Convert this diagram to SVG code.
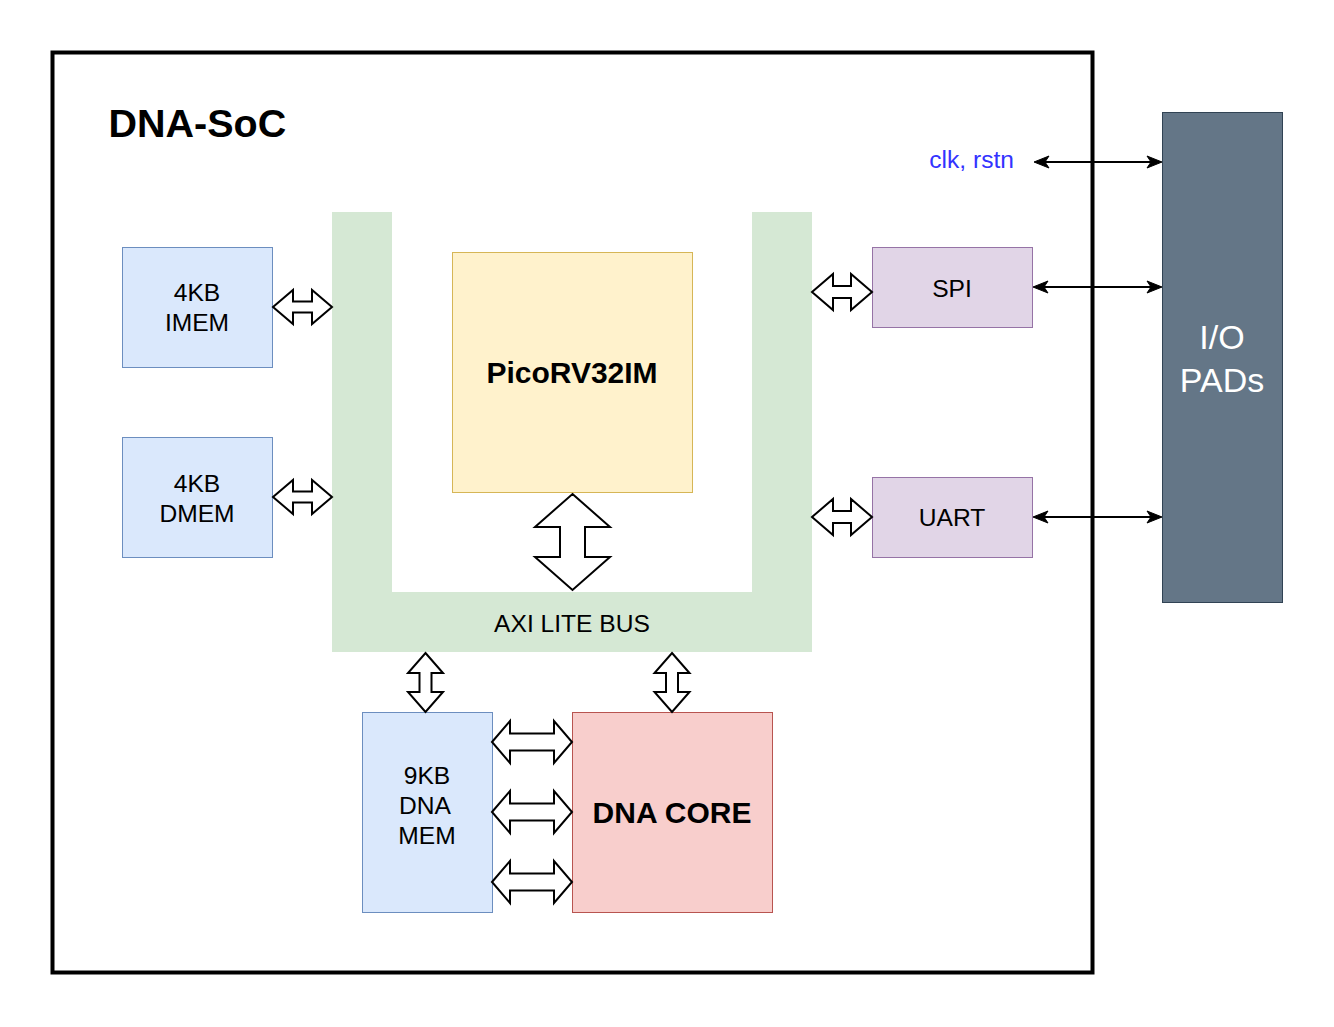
<svg xmlns="http://www.w3.org/2000/svg" width="1334" height="1027" viewBox="0 0 1334 1027">
  <style>
    text { font-family: "Liberation Sans", Arial, Helvetica, sans-serif; font-size: 24.6px; fill: #000000; text-anchor: middle; }
    .blk { fill: #ffffff; stroke: #000000; stroke-width: 2; stroke-linejoin: miter; }
    .thin { stroke: #000000; stroke-width: 2; fill: none; marker-start: url(#ah); marker-end: url(#ah); }
    .blue { fill: #dae8fc; stroke: #6c8ebf; stroke-width: 1; }
    .purple { fill: #e1d5e7; stroke: #9673a6; stroke-width: 1; }
    .bold { font-weight: bold; }
  </style>
  <defs>
    <marker id="ah" markerUnits="userSpaceOnUse" markerWidth="20" markerHeight="20" viewBox="-14 -8 20 16" refX="0" refY="0" orient="auto-start-reverse" overflow="visible">
      <path d="M3,0 L-12,-6 L-8,0 L-12,6 Z" fill="#000000" stroke="#000000" stroke-width="1"/>
    </marker>
  </defs>
  <rect width="1334" height="1027" fill="#ffffff"/>

  <g id="soc">
    <rect x="52.5" y="52.5" width="1040" height="920" fill="none" stroke="#000000" stroke-width="4"/>
    <text x="108.5" y="137" class="bold" style="font-size:39.5px;text-anchor:start">DNA-SoC</text>
  </g>

  <g id="axi-bus">
    <path d="M332,212 H392 V592 H752 V212 H812 V652 H332 Z" fill="#d5e8d4"/>
    <text x="572" y="631.6">AXI LITE BUS</text>
  </g>

  <g id="imem">
    <rect x="122.5" y="247.5" width="150" height="120" class="blue"/>
    <text x="197" y="301">4KB</text>
    <text x="197" y="331">IMEM</text>
  </g>

  <g id="dmem">
    <rect x="122.5" y="437.5" width="150" height="120" class="blue"/>
    <text x="197" y="491.6">4KB</text>
    <text x="197" y="521.6">DMEM</text>
  </g>

  <g id="picorv">
    <rect x="452.5" y="252.5" width="240" height="240" fill="#fff2cc" stroke="#d6b656" stroke-width="1"/>
    <text x="572" y="382.5" class="bold" style="font-size:30px">PicoRV32IM</text>
  </g>

  <g id="spi">
    <rect x="872.5" y="247.5" width="160" height="80" class="purple"/>
    <text x="952" y="296.6">SPI</text>
  </g>

  <g id="uart">
    <rect x="872.5" y="477.5" width="160" height="80" class="purple"/>
    <text x="952" y="525.6">UART</text>
  </g>

  <g id="dna-mem">
    <rect x="362.5" y="712.5" width="130" height="200" class="blue"/>
    <text x="427" y="783.6">9KB</text>
    <text x="425" y="813.6">DNA</text>
    <text x="427" y="843.6">MEM</text>
  </g>

  <g id="dna-core">
    <rect x="572.5" y="712.5" width="200" height="200" fill="#f8cecc" stroke="#b85450" stroke-width="1"/>
    <text x="672" y="822.5" class="bold" style="font-size:30px">DNA CORE</text>
  </g>

  <g id="io-pads">
    <rect x="1162.5" y="112.5" width="120" height="490" fill="#647687" stroke="#314354" stroke-width="1"/>
    <text x="1222" y="349" style="font-size:34px;fill:#ffffff">I/O</text>
    <text x="1222" y="392" style="font-size:34px;fill:#ffffff">PADs</text>
  </g>

  <g id="clk-label">
    <text x="1014" y="168" style="text-anchor:end;fill:#3333ff">clk, rstn</text>
  </g>

  <g id="connectors">
    <path class="blk" d="M273,307 L293,290 L293,301.5 L312,301.5 L312,290 L332,307 L312,324 L312,312.5 L293,312.5 L293,324 Z"/>
    <path class="blk" d="M273,497 L293,480 L293,491.5 L312,491.5 L312,480 L332,497 L312,514 L312,502.5 L293,502.5 L293,514 Z"/>
    <path class="blk" d="M812,292 L833,274 L833,286 L851,286 L851,274 L872,292 L851,310 L851,298 L833,298 L833,310 Z"/>
    <path class="blk" d="M812,517 L833,499 L833,511 L851,511 L851,499 L872,517 L851,535 L851,523 L833,523 L833,535 Z"/>
    <path class="blk" d="M492,742 L510,721 L510,733.5 L554,733.5 L554,721 L572,742 L554,763 L554,750.5 L510,750.5 L510,763 Z"/>
    <path class="blk" d="M492,812 L510,791 L510,803.5 L554,803.5 L554,791 L572,812 L554,833 L554,820.5 L510,820.5 L510,833 Z"/>
    <path class="blk" d="M492,882 L510,861 L510,873.5 L554,873.5 L554,861 L572,882 L554,903 L554,890.5 L510,890.5 L510,903 Z"/>
    <path class="blk" d="M572.5,494 L610,527 L585,527 L585,557 L610,557 L572.5,590 L535,557 L560,557 L560,527 L535,527 Z"/>
    <path class="blk" d="M425.5,653 L443,673 L431.5,673 L431.5,692 L443,692 L425.5,712 L408,692 L419.5,692 L419.5,673 L408,673 Z"/>
    <path class="blk" d="M672,653 L689.5,673 L678,673 L678,692 L689.5,692 L672,712 L654.5,692 L666,692 L666,673 L654.5,673 Z"/>
    <line class="thin" x1="1037" y1="162" x2="1159" y2="162"/>
    <line class="thin" x1="1036" y1="287" x2="1159" y2="287"/>
    <line class="thin" x1="1036" y1="517" x2="1159" y2="517"/>
  </g>
</svg>
